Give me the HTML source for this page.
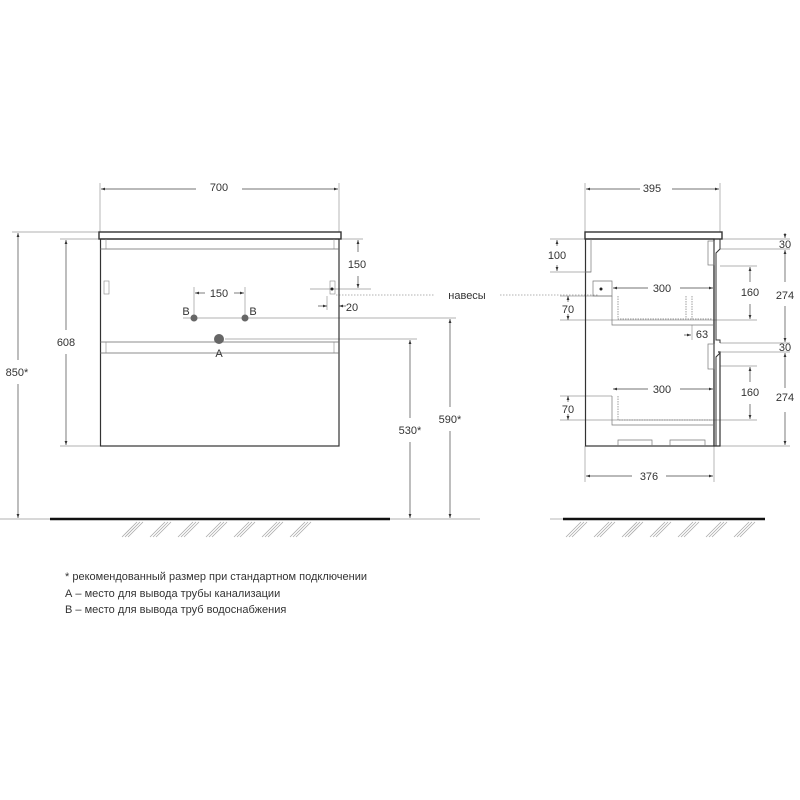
<!DOCTYPE html>
<html><head><meta charset="utf-8"><style>
html,body{margin:0;padding:0;background:#fff;width:800px;height:800px;overflow:hidden}
text{font-family:"Liberation Sans","DejaVu Sans",sans-serif;fill:#333}
</style></head><body>
<svg width="800" height="800" viewBox="0 0 800 800" xmlns="http://www.w3.org/2000/svg">
<defs>
<marker id="a" viewBox="0 0 10 10" refX="10" refY="5" markerWidth="6" markerHeight="6" orient="auto-start-reverse"><path d="M0,1.5 L10,5 L0,8.5z" fill="#333"/></marker>
<g id="h" stroke="#aaa" stroke-width="0.8"><line x1="0" y1="16" x2="15" y2="1"/><line x1="3" y1="16" x2="18" y2="1"/><line x1="6" y1="16" x2="21" y2="1"/></g>
</defs>
<rect width="800" height="800" fill="#fff"/>
<g stroke="#999" stroke-width="0.7" fill="none">
<line x1="100" y1="183" x2="100" y2="232"/><line x1="339" y1="183" x2="339" y2="232"/>
<line x1="12" y1="232" x2="99" y2="232"/><line x1="60" y1="239" x2="100" y2="239"/><line x1="60" y1="446" x2="100" y2="446"/>
<line x1="339" y1="239" x2="363" y2="239"/><line x1="310" y1="289" x2="371" y2="289"/>
<line x1="194" y1="287" x2="194" y2="318"/><line x1="245" y1="287" x2="245" y2="318"/>
<line x1="183" y1="318" x2="456" y2="318"/><line x1="225" y1="339" x2="417" y2="339"/>
<line x1="327" y1="296" x2="327" y2="310"/>
<line x1="0" y1="519" x2="50" y2="519"/><line x1="390" y1="519" x2="480" y2="519"/>
<line x1="585" y1="183" x2="585" y2="232"/><line x1="720" y1="183" x2="720" y2="232"/>
<line x1="585" y1="446" x2="585" y2="482"/><line x1="714" y1="446" x2="714" y2="482"/>
<line x1="550" y1="239" x2="585" y2="239"/><line x1="550" y1="272" x2="591" y2="272"/>
<line x1="720" y1="239" x2="790" y2="239"/><line x1="720" y1="249" x2="790" y2="249"/>
<line x1="720" y1="266" x2="757" y2="266"/><line x1="560" y1="320" x2="757" y2="320"/>
<line x1="720" y1="343" x2="790" y2="343"/><line x1="720" y1="352" x2="790" y2="352"/>
<line x1="720" y1="366" x2="757" y2="366"/><line x1="560" y1="420" x2="757" y2="420"/>
<line x1="720" y1="446" x2="790" y2="446"/>
<line x1="560" y1="296" x2="612" y2="296"/><line x1="560" y1="396" x2="612" y2="396"/>
<line x1="692" y1="325" x2="692" y2="340"/>
<line x1="550" y1="519" x2="563" y2="519"/>
</g>
<g stroke="#999" stroke-width="0.7" stroke-dasharray="1.5,1.5">
<line x1="336" y1="295" x2="435" y2="295"/><line x1="500" y1="295" x2="598" y2="295"/>
</g>
<g stroke="#444" stroke-width="0.7" fill="none" marker-start="url(#a)" marker-end="url(#a)">
<line x1="101" y1="189" x2="196" y2="189" marker-end="none"/><line x1="242" y1="189" x2="338" y2="189" marker-start="none"/>
<line x1="18" y1="233" x2="18" y2="360" marker-end="none"/><line x1="18" y1="384" x2="18" y2="518" marker-start="none"/>
<line x1="66" y1="240" x2="66" y2="330" marker-end="none"/><line x1="66" y1="354" x2="66" y2="445" marker-start="none"/>
<line x1="358" y1="240" x2="358" y2="252" marker-end="none"/><line x1="358" y1="276" x2="358" y2="288" marker-start="none"/>
<line x1="195" y1="293" x2="205" y2="293" marker-end="none"/><line x1="234" y1="293" x2="244" y2="293" marker-start="none"/>
<line x1="318" y1="306" x2="327" y2="306" marker-start="none"/><line x1="346" y1="306" x2="339" y2="306" marker-start="none"/>
<line x1="410" y1="340" x2="410" y2="418" marker-end="none"/><line x1="410" y1="442" x2="410" y2="518" marker-start="none"/>
<line x1="450" y1="319" x2="450" y2="407" marker-end="none"/><line x1="450" y1="431" x2="450" y2="518" marker-start="none"/>
<line x1="586" y1="189" x2="640" y2="189" marker-end="none"/><line x1="672" y1="189" x2="719" y2="189" marker-start="none"/>
<line x1="586" y1="476" x2="632" y2="476" marker-end="none"/><line x1="666" y1="476" x2="713" y2="476" marker-start="none"/>
<line x1="557" y1="240" x2="557" y2="246" marker-end="none"/><line x1="557" y1="265" x2="557" y2="271" marker-start="none"/>
<line x1="568" y1="296" x2="568" y2="302" marker-end="none"/><line x1="568" y1="314" x2="568" y2="320" marker-start="none"/>
<line x1="568" y1="396" x2="568" y2="402" marker-end="none"/><line x1="568" y1="414" x2="568" y2="420" marker-start="none"/>
<line x1="613" y1="288" x2="648" y2="288" marker-end="none"/><line x1="680" y1="288" x2="713" y2="288" marker-start="none"/>
<line x1="613" y1="389" x2="648" y2="389" marker-end="none"/><line x1="680" y1="389" x2="713" y2="389" marker-start="none"/>
<line x1="684" y1="335" x2="691" y2="335" marker-start="none"/>
<line x1="750" y1="267" x2="750" y2="282" marker-end="none"/><line x1="750" y1="304" x2="750" y2="319" marker-start="none"/>
<line x1="750" y1="367" x2="750" y2="382" marker-end="none"/><line x1="750" y1="404" x2="750" y2="419" marker-start="none"/>
<line x1="785" y1="233" x2="785" y2="238" marker-start="none"/><line x1="785" y1="250" x2="785" y2="282" marker-end="none"/><line x1="785" y1="306" x2="785" y2="342" marker-start="none"/>
<line x1="785" y1="353" x2="785" y2="388" marker-end="none"/><line x1="785" y1="412" x2="785" y2="445" marker-start="none"/>
</g>
<g stroke="#333" fill="none">
<rect x="99" y="232" width="242" height="7" stroke-width="1.4"/>
<rect x="100.5" y="239" width="238.5" height="207" stroke-width="1.2"/>
<line x1="100" y1="249" x2="339" y2="249" stroke-width="0.8" stroke="#666"/>
<line x1="100" y1="342" x2="339" y2="342" stroke-width="0.8" stroke="#666"/>
<line x1="100" y1="353" x2="339" y2="353" stroke-width="0.8" stroke="#666"/>
<g stroke="#888" stroke-width="0.6"><line x1="106" y1="239" x2="106" y2="249"/><line x1="334" y1="239" x2="334" y2="249"/><line x1="106" y1="342" x2="106" y2="353"/><line x1="334" y1="342" x2="334" y2="353"/>
<rect x="104" y="281" width="5" height="13"/><rect x="330" y="281" width="5" height="13"/></g>
</g>
<circle cx="332" cy="289" r="1.5" fill="#222"/>
<circle cx="194" cy="318" r="3.5" fill="#666"/><circle cx="245" cy="318" r="3.5" fill="#666"/>
<circle cx="219" cy="339" r="5" fill="#666"/>
<g stroke="#333" fill="none">
<rect x="585" y="232" width="137" height="7" stroke-width="1.4"/>
<rect x="585.5" y="239" width="128.5" height="207" stroke-width="1.2"/>
<path d="M714,239 V446 H720 V352 L718,352" stroke-width="1.2"/>
<path d="M720,239 V249 L716,253 V340 H720 V343" stroke-width="1"/>
<path d="M720,353 L716,357 V446" stroke-width="1"/>
<g stroke="#777" stroke-width="0.7">
<path d="M591,239 V272 H585"/>
<rect x="708" y="241" width="6" height="24"/><rect x="708" y="344" width="6" height="25"/>
<path d="M612,296 V325 H714"/><path d="M612,396 V425 H714"/>
<path d="M618,296 V319 H712" stroke-dasharray="1.5,1"/><path d="M618,396 V420 H712" stroke-dasharray="1.5,1"/>
<path d="M686,296 V319 M692,296 V319" stroke-dasharray="1.5,1"/>
<path d="M593,281 H612 V296 H593 Z"/>
<path d="M618,446 V440 H652 V446 M670,446 V440 H705 V446"/>
</g>
</g>
<circle cx="601" cy="289" r="1.5" fill="#222"/>
<line x1="50" y1="519" x2="390" y2="519" stroke="#111" stroke-width="2.5"/>
<line x1="563" y1="519" x2="765" y2="519" stroke="#111" stroke-width="2.5"/>
<g transform="translate(0,521)">
<use href="#h" x="122"/><use href="#h" x="150"/><use href="#h" x="178"/><use href="#h" x="206"/><use href="#h" x="234"/><use href="#h" x="262"/><use href="#h" x="290"/>
<use href="#h" x="566"/><use href="#h" x="594"/><use href="#h" x="622"/><use href="#h" x="650"/><use href="#h" x="678"/><use href="#h" x="706"/><use href="#h" x="734"/>
</g>
<g font-size="11" text-anchor="middle">
<text x="219" y="191">700</text>
<text x="17" y="376">850*</text>
<text x="66" y="346">608</text>
<text x="357" y="268">150</text>
<text x="219" y="297">150</text>
<text x="352" y="311">20</text>
<text x="186" y="315">B</text><text x="253" y="315">B</text>
<text x="219" y="357">A</text>
<text x="410" y="434">530*</text>
<text x="450" y="423">590*</text>
<text x="467" y="299">навесы</text>
<text x="652" y="192">395</text>
<text x="649" y="480">376</text>
<text x="557" y="259">100</text>
<text x="568" y="313">70</text><text x="568" y="413">70</text>
<text x="662" y="292">300</text><text x="662" y="393">300</text>
<text x="702" y="338">63</text>
<text x="750" y="296">160</text><text x="750" y="396">160</text>
<text x="785" y="248">30</text><text x="785" y="351">30</text>
<text x="785" y="299">274</text><text x="785" y="401">274</text>
</g>
<g font-size="11">
<text x="65" y="580">* рекомендованный размер при стандартном подключении</text>
<text x="65" y="597">А – место для вывода трубы канализации</text>
<text x="65" y="613">В – место для вывода труб водоснабжения</text>
</g>
</svg>
</body></html>
